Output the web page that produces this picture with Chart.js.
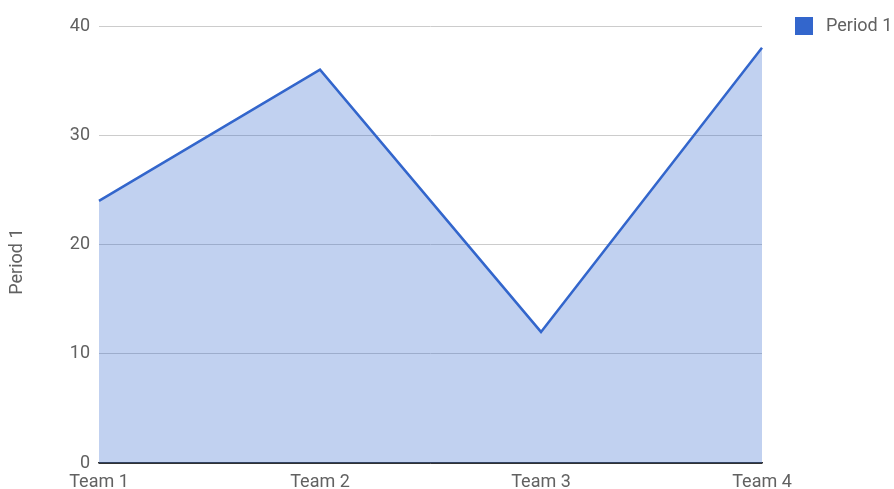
<!DOCTYPE html>
<html lang="en">
<head>
    <meta charset="UTF-8">
    <title>Period 1</title>
    <script src="https://cdn.jsdelivr.net/npm/chart.js"></script>
    <style>
        body { margin: 0; background: #fff; }
        #wrap { width: 894px; height: 489px; }
    </style>
</head>
<body>
    <div id="wrap"><canvas id="myChart"></canvas></div>

    <script>
        const teams = ["Team 1", "Team 2", "Team 3", "Team 4"];
        const period1 = [24, 36, 12, 38];
        const seriesName = "Period 1";

        const blue = "#3366cc";
        const fontFamily = "Roboto, 'Noto Sans', sans-serif";
        const fontSize = 18;

        // legend and axis title drawn by hand
        const sideText = {
            id: "sideText",
            afterDraw(chart) {
                const ctx = chart.ctx;
                const x = chart.chartArea.right + 33;
                const y = chart.chartArea.top;
                ctx.save();
                ctx.fillStyle = blue;
                ctx.fillRect(x, y - 9, 18, 18);
                ctx.fillStyle = "#616161";
                ctx.font = fontSize + "px " + fontFamily;
                ctx.textBaseline = "middle";
                ctx.fillText(seriesName, x + 31, y);

                // rotated y-axis title
                ctx.translate(17, chart.height * 0.535);
                ctx.rotate(-Math.PI / 2);
                ctx.textAlign = "center";
                ctx.fillText(seriesName, 0, 0);
                ctx.restore();
            }
        };

        const ctx = document.getElementById("myChart").getContext("2d");
        const myChart = new Chart(ctx, {
            type: "line",
            data: {
                labels: teams,
                datasets: [{
                    label: seriesName,
                    data: period1,
                    borderColor: blue,
                    backgroundColor: "rgba(51, 102, 204, 0.3)",
                    borderWidth: 2.5,
                    fill: "origin",
                    tension: 0,
                    pointRadius: 0
                }]
            },
            options: {
                responsive: true,
                maintainAspectRatio: false,
                animation: false,
                layout: { padding: { left: 0, right: 132, top: 26, bottom: 0 } },
                plugins: {
                    legend: { display: false },
                    tooltip: { enabled: false }
                },
                scales: {
                    x: {
                        offset: false,
                        grid: { display: false, drawTicks: false },
                        border: { display: true, color: "#333", width: 1.5 },
                        ticks: { color: "#616161", padding: 9, maxRotation: 0, font: { family: fontFamily, size: fontSize } },
                        afterFit(scale) { scale.height = 26; }
                    },
                    y: {
                        min: 0,
                        max: 40,
                        ticks: { stepSize: 10, color: "#616161", padding: 9, font: { family: fontFamily, size: fontSize } },
                        grid: {
                            drawTicks: false,
                            color: c => c.tick && c.tick.value === 0 ? "#333" : "#cccccc"
                        },
                        border: { display: false },
                        afterFit(scale) { scale.width = 99; }
                    }
                }
            },
            plugins: [sideText]
        });
    </script>
</body>
</html>
